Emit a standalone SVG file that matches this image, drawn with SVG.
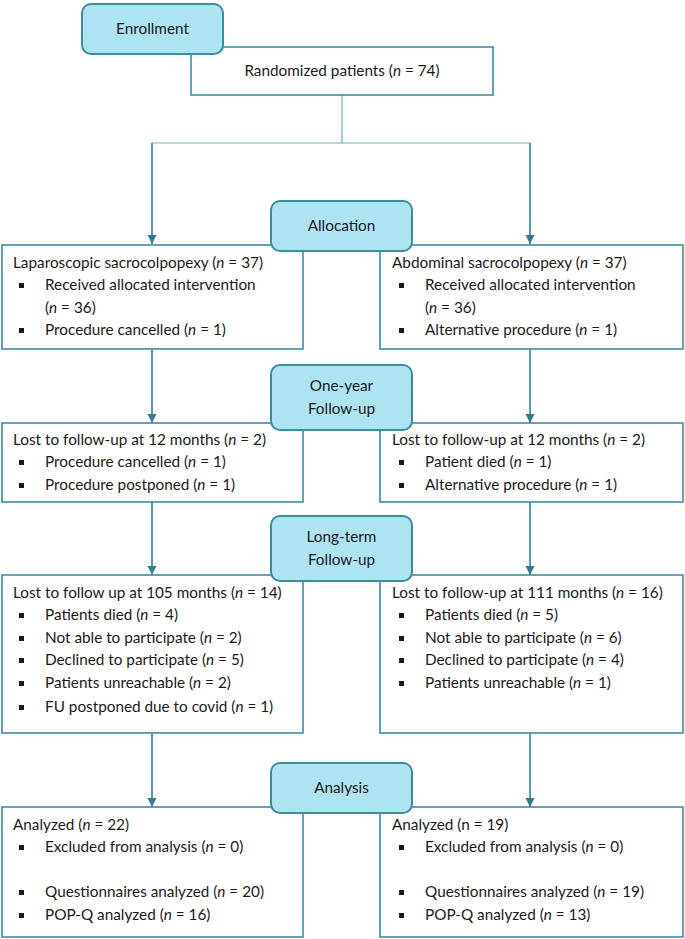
<svg xmlns="http://www.w3.org/2000/svg" width="685" height="939" viewBox="0 0 685 939">
<style>
.box{fill:#ffffff;stroke:#3c8ca0;stroke-width:1.6}
.phase{fill:#ade4f2;stroke:#3c8ca0;stroke-width:2}
text{font-family:Lato,"Open Sans","Liberation Sans",sans-serif;font-size:15.3px;fill:#1a1a1a}
.c{text-anchor:middle}
.it{font-style:italic}
.arr{fill:none;stroke:#2f7f93;stroke-width:1.6}
.thin{fill:none;stroke:#6aaebe;stroke-width:1.2}
.b{fill:#1a1a1a}
</style>
<defs>
<marker id="ah" markerWidth="10" markerHeight="10" refX="9" refY="5" orient="auto" markerUnits="userSpaceOnUse">
<path d="M0,0.5 L9,5 L0,9.5 Z" fill="#2f7f93"/>
</marker>
</defs>

<g id="connectors">
<path class="thin" d="M342,95 V143 M152,143 H530"/>
<path class="arr" d="M152,143 V244" marker-end="url(#ah)"/>
<path class="arr" d="M530,143 V244" marker-end="url(#ah)"/>
<path class="arr" d="M152,349 V423" marker-end="url(#ah)"/>
<path class="arr" d="M530,349 V423" marker-end="url(#ah)"/>
<path class="arr" d="M152,502 V575" marker-end="url(#ah)"/>
<path class="arr" d="M530,502 V575" marker-end="url(#ah)"/>
<path class="arr" d="M152,733 V807" marker-end="url(#ah)"/>
<path class="arr" d="M530,733 V807" marker-end="url(#ah)"/>
</g>

<g id="randomized">
<rect class="box" x="191" y="47" width="302" height="48"/>
<text class="c" x="342" y="76">Randomized patients (<tspan class="it">n</tspan> = 74)</text>
</g>
<g id="enrollment">
<rect class="phase" x="82" y="4" width="141" height="50" rx="9"/>
<text class="c" x="152.5" y="34">Enrollment</text>
</g>

<g id="lap-alloc">
<rect class="box" x="2" y="245" width="301" height="104"/>
<text x="13" y="268">Laparoscopic sacrocolpopexy (<tspan class="it">n</tspan> = 37)</text>
<rect class="b" x="19" y="283" width="5" height="5"/>
<text x="45" y="290">Received allocated intervention</text>
<text x="45" y="313">(<tspan class="it">n</tspan> = 36)</text>
<rect class="b" x="19" y="328" width="5" height="5"/>
<text x="45" y="335">Procedure cancelled (<tspan class="it">n</tspan> = 1)</text>
</g>
<g id="abd-alloc">
<rect class="box" x="380" y="245" width="303" height="104"/>
<text x="392" y="268">Abdominal sacrocolpopexy (<tspan class="it">n</tspan> = 37)</text>
<rect class="b" x="399" y="283" width="5" height="5"/>
<text x="425" y="290">Received allocated intervention</text>
<text x="425" y="313">(<tspan class="it">n</tspan> = 36)</text>
<rect class="b" x="399" y="328" width="5" height="5"/>
<text x="425" y="335">Alternative procedure (<tspan class="it">n</tspan> = 1)</text>
</g>
<g id="allocation">
<rect class="phase" x="271" y="201" width="141" height="50" rx="9"/>
<text class="c" x="341.5" y="231">Allocation</text>
</g>

<g id="lap-1y">
<rect class="box" x="2" y="423" width="301" height="79"/>
<text x="13" y="445">Lost to follow-up at 12 months (<tspan class="it">n</tspan> = 2)</text>
<rect class="b" x="19" y="460" width="5" height="5"/>
<text x="45" y="467">Procedure cancelled (<tspan class="it">n</tspan> = 1)</text>
<rect class="b" x="19" y="483" width="5" height="5"/>
<text x="45" y="490">Procedure postponed (<tspan class="it">n</tspan> = 1)</text>
</g>
<g id="abd-1y">
<rect class="box" x="380" y="423" width="303" height="79"/>
<text x="392" y="445">Lost to follow-up at 12 months (<tspan class="it">n</tspan> = 2)</text>
<rect class="b" x="399" y="460" width="5" height="5"/>
<text x="425" y="467">Patient died (<tspan class="it">n</tspan> = 1)</text>
<rect class="b" x="399" y="483" width="5" height="5"/>
<text x="425" y="490">Alternative procedure (<tspan class="it">n</tspan> = 1)</text>
</g>
<g id="one-year">
<rect class="phase" x="271" y="365" width="141" height="65" rx="9"/>
<text class="c" x="341.5" y="391">One-year</text>
<text class="c" x="341.5" y="414">Follow-up</text>
</g>

<g id="lap-lt">
<rect class="box" x="2" y="575" width="301" height="158"/>
<text x="13" y="598">Lost to follow up at 105 months (<tspan class="it">n</tspan> = 14)</text>
<rect class="b" x="19" y="613" width="5" height="5"/>
<text x="45" y="620">Patients died (<tspan class="it">n</tspan> = 4)</text>
<rect class="b" x="19" y="636" width="5" height="5"/>
<text x="45" y="643">Not able to participate (<tspan class="it">n</tspan> = 2)</text>
<rect class="b" x="19" y="658" width="5" height="5"/>
<text x="45" y="665">Declined to participate (<tspan class="it">n</tspan> = 5)</text>
<rect class="b" x="19" y="681" width="5" height="5"/>
<text x="45" y="688">Patients unreachable (<tspan class="it">n</tspan> = 2)</text>
<rect class="b" x="19" y="705" width="5" height="5"/>
<text x="45" y="712">FU postponed due to covid (<tspan class="it">n</tspan> = 1)</text>
</g>
<g id="abd-lt">
<rect class="box" x="380" y="575" width="303" height="158"/>
<text x="392" y="598">Lost to follow-up at 111 months (<tspan class="it">n</tspan> = 16)</text>
<rect class="b" x="399" y="613" width="5" height="5"/>
<text x="425" y="620">Patients died (<tspan class="it">n</tspan> = 5)</text>
<rect class="b" x="399" y="636" width="5" height="5"/>
<text x="425" y="643">Not able to participate (<tspan class="it">n</tspan> = 6)</text>
<rect class="b" x="399" y="658" width="5" height="5"/>
<text x="425" y="665">Declined to participate (<tspan class="it">n</tspan> = 4)</text>
<rect class="b" x="399" y="681" width="5" height="5"/>
<text x="425" y="688">Patients unreachable (<tspan class="it">n</tspan> = 1)</text>
</g>
<g id="long-term">
<rect class="phase" x="271" y="516" width="141" height="65" rx="9"/>
<text class="c" x="341.5" y="542">Long-term</text>
<text class="c" x="341.5" y="565">Follow-up</text>
</g>

<g id="lap-analysis">
<rect class="box" x="2" y="807" width="301" height="130"/>
<text x="13" y="830">Analyzed (<tspan class="it">n</tspan> = 22)</text>
<rect class="b" x="19" y="845" width="5" height="5"/>
<text x="45" y="852">Excluded from analysis (<tspan class="it">n</tspan> = 0)</text>
<rect class="b" x="19" y="890" width="5" height="5"/>
<text x="45" y="897">Questionnaires analyzed (<tspan class="it">n</tspan> = 20)</text>
<rect class="b" x="19" y="913" width="5" height="5"/>
<text x="45" y="920">POP-Q analyzed (<tspan class="it">n</tspan> = 16)</text>
</g>
<g id="abd-analysis">
<rect class="box" x="380" y="807" width="303" height="130"/>
<text x="392" y="830">Analyzed (n = 19)</text>
<rect class="b" x="399" y="845" width="5" height="5"/>
<text x="425" y="852">Excluded from analysis (<tspan class="it">n</tspan> = 0)</text>
<rect class="b" x="399" y="890" width="5" height="5"/>
<text x="425" y="897">Questionnaires analyzed (<tspan class="it">n</tspan> = 19)</text>
<rect class="b" x="399" y="913" width="5" height="5"/>
<text x="425" y="920">POP-Q analyzed (<tspan class="it">n</tspan> = 13)</text>
</g>
<g id="analysis">
<rect class="phase" x="271" y="763" width="141" height="50" rx="9"/>
<text class="c" x="341.5" y="793">Analysis</text>
</g>
</svg>
